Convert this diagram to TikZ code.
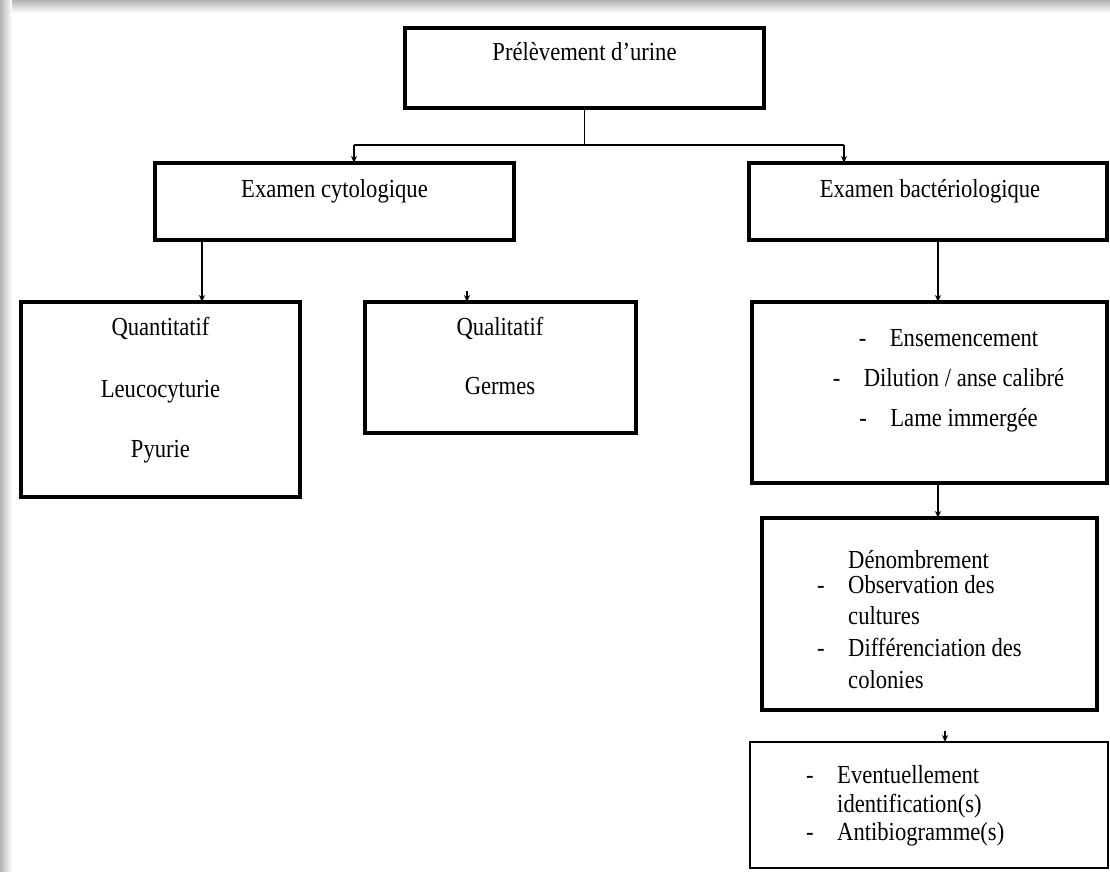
\documentclass[tikz,border=0pt]{standalone}
\usepackage{fontspec}
\setmainfont{Liberation Serif}[FakeStretch=0.87]
\usetikzlibrary{arrows.meta, positioning}

\newcommand{\tiret}{\llap{\makebox[31pt][l]{-}}}

\tikzset{
  box/.style={draw, line width=3.5pt, inner sep=0pt, outer sep=0pt},
  thinbox/.style={draw, line width=2.2pt, inner sep=0pt, outer sep=0pt},
  txt/.style={font=\fontsize{26}{30}\selectfont, inner sep=0pt},
  link/.style={line width=1.3pt},
  arr/.style={line width=1.3pt, -{Stealth[length=7pt,width=6pt]}}
}

\begin{document}
\begin{tikzpicture}[x=1pt, y=-1pt]
  \useasboundingbox (0,0) rectangle (1110,871);
  % page shadow
  \shade[top color=gray!60, bottom color=white] (0,0) rectangle (1110,13);
  \shade[left color=gray!60, right color=white] (0,0) rectangle (12,871);

  % boxes
  \node[box, minimum width=359pt, minimum height=80pt]  (pre)    at (584.5,68)  {};
  \node[box, minimum width=359pt, minimum height=77pt]  (cyto)   at (334.5,201.5) {};
  \node[box, minimum width=358pt, minimum height=77pt]  (bact)   at (928,201.5) {};
  \node[box, minimum width=279pt, minimum height=195pt] (quanti) at (160.5,399.5) {};
  \node[box, minimum width=271pt, minimum height=131pt] (quali)  at (500.5,367.5) {};
  \node[box, minimum width=355pt, minimum height=181pt] (ens)    at (929.5,392.5) {};
  \node[box, minimum width=335pt, minimum height=192pt] (denom)  at (929.5,614) {};
  \node[thinbox, minimum width=358pt, minimum height=126pt] (ident) at (929,805) {};

  % titles
  \node[txt, anchor=mid] (pre-t)  at (584.5,58) {Prélèvement d’urine};
  \node[txt, anchor=mid] (cyto-t) at (334.5,195) {Examen cytologique};
  \node[txt, anchor=mid] (bact-t) at (930,195) {Examen bactériologique};

  % cytologie
  \foreach \y/\t [count=\i] in {333/Quantitatif, 395/Leucocyturie, 455/Pyurie}
    \node[txt, anchor=mid] (quanti-\i) at (160.5,\y) {\t};
  \foreach \y/\t [count=\i] in {333/Qualitatif, 392/Germes}
    \node[txt, anchor=mid] (quali-\i) at (500,\y) {\t};

  % bacteriologie
  \foreach \y/\t [count=\i] in {344/Ensemencement, 384/{Dilution / anse calibré}, 424/Lame immergée}
    \node[txt, anchor=mid] (ens-\i) at (964,\y) {\tiret\t};
  \foreach \y/\t [count=\i] in {566/Dénombrement, 591/\tiret Observation des, 622/cultures,
                                654/\tiret Différenciation des, 686/colonies}
    \node[txt, anchor=mid west] (denom-\i) at (848,\y) {\t};
  \foreach \y/\t [count=\i] in {781/\tiret Eventuellement, 810/identification(s), 838/\tiret Antibiogramme(s)}
    \node[txt, anchor=mid west] (ident-\i) at (837,\y) {\t};

  % connectors
  \coordinate (split)   at (584.5,145);
  \coordinate (cyto-in) at (354,145);
  \coordinate (bact-in) at (844,145);
  \draw[link] (pre) -- (split);
  \draw[link] (cyto-in) -- (bact-in);
  \draw[arr] (cyto-in) -- (cyto-in |- cyto.north);
  \draw[arr] (bact-in) -- (bact-in |- bact.north);

  \coordinate (c1) at (202,0);
  \draw[arr] (c1 |- cyto.south) -- (c1 |- quanti.north);
  \coordinate (c2) at (467,291);
  \draw[arr] (c2) -- (c2 |- quali.north);

  \coordinate (c3) at (938,0);
  \draw[arr] (c3 |- bact.south) -- (c3 |- ens.north);
  \draw[arr] (c3 |- ens.south) -- (c3 |- denom.north);
  \coordinate (c4) at (945,731);
  \draw[arr] (c4) -- (c4 |- ident.north);
\end{tikzpicture}
\end{document}
